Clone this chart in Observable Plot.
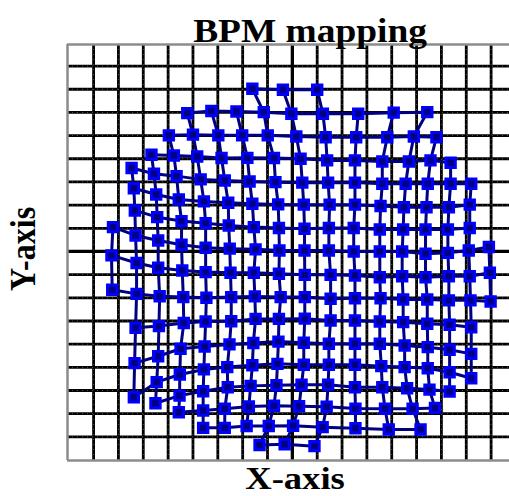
<!DOCTYPE html>
<html>
<head>
<meta charset="utf-8">
<script src="https://cdn.jsdelivr.net/npm/d3@7"></script>
<script src="https://cdn.jsdelivr.net/npm/@observablehq/plot@0.6"></script>
<style>
  html, body { margin: 0; padding: 0; background: #fff; overflow: hidden; }
  #chart svg { display: block; background: #fff; overflow: visible; }
</style>
</head>
<body>
<div id="chart"></div>
<script>
// Title / labels
const titleText = "BPM mapping";
const xLabel = "X-axis";
const yLabel = "Y-axis";

// Grid lines (grid units)
const gridTicks = d3.range(-8, 9);

// First column index of each measured row (rows listed top to bottom)
const rowStart = [7, 4, 3, 2, 1, 1, 1, 0, 0, 0, 1, 1, 1, 2, 3, 4, 7];

// Measured BPM positions per row (x, y in grid units)
const rowA_x = [-1.61, -0.38, 1.00];
const rowA_y = [7.02, 6.98, 6.98];
const rowB_x = [-4.23, -3.26, -2.25, -1.15, -0.04, 1.23, 2.65, 4.08, 5.43];
const rowB_y = [5.97, 6.06, 6.04, 6.01, 5.94, 5.94, 5.94, 5.99, 6.01];
const rowC_x = [-4.97, -4.00, -2.98, -2.02, -0.99, 0.16, 1.34, 2.57, 3.82, 4.89, 5.80];
const rowC_y = [5.01, 5.04, 5.01, 5.01, 5.01, 4.96, 4.93, 4.93, 4.93, 4.96, 4.93];
const rowD_x = [-5.67, -4.77, -3.83, -2.85, -1.81, -0.74, 0.33, 1.40, 2.52, 3.62, 4.69, 5.56, 6.37];
const rowD_y = [4.17, 4.14, 4.10, 4.03, 4.04, 4.03, 4.00, 3.93, 3.93, 3.88, 3.88, 3.93, 3.83];
const rowE_x = [-6.47, -5.57, -4.66, -3.69, -2.72, -1.72, -0.68, 0.40, 1.44, 2.52, 3.62, 4.56, 5.45, 6.37, 7.20];
const rowE_y = [3.60, 3.35, 3.25, 3.11, 3.06, 3.02, 2.99, 2.97, 2.97, 2.97, 2.92, 2.92, 2.92, 2.92, 2.92];
const rowF_x = [-6.38, -5.48, -4.57, -3.56, -2.58, -1.61, -0.57, 0.46, 1.50, 2.52, 3.55, 4.49, 5.40, 6.30, 7.14];
const rowF_y = [2.73, 2.46, 2.24, 2.16, 2.10, 2.06, 2.03, 2.02, 2.02, 2.02, 1.96, 1.91, 1.91, 1.91, 2.02];
const rowG_x = [-6.34, -5.44, -4.46, -3.49, -2.56, -1.55, -0.54, 0.49, 1.47, 2.47, 3.52, 4.46, 5.36, 6.26, 7.14];
const rowG_y = [1.77, 1.48, 1.31, 1.22, 1.12, 1.05, 1.01, 0.98, 1.01, 1.01, 0.95, 0.95, 0.95, 0.95, 1.01];
const rowH_x = [-7.22, -6.31, -5.40, -4.46, -3.49, -2.52, -1.48, -0.52, 0.49, 1.47, 2.47, 3.52, 4.42, 5.36, 6.26, 7.10, 7.91];
const rowH_y = [1.05, 0.69, 0.47, 0.29, 0.16, 0.12, 0.09, 0.04, 0.04, 0.04, 0.00, 0.00, 0.00, -0.10, -0.06, 0.04, 0.19];
const rowI_x = [-7.28, -6.27, -5.40, -4.43, -3.49, -2.49, -1.55, -0.54, 0.50, 1.54, 2.52, 3.52, 4.42, 5.36, 6.30, 7.14, 7.95];
const rowI_y = [-0.17, -0.50, -0.70, -0.82, -0.89, -0.92, -0.92, -0.96, -1.01, -1.01, -1.04, -1.11, -1.07, -1.11, -1.07, -1.07, -0.92];
const rowJ_x = [-7.25, -6.27, -5.34, -4.39, -3.46, -2.46, -1.51, -0.47, 0.50, 1.54, 2.52, 3.55, 4.46, 5.43, 6.30, 7.17, 7.98];
const rowJ_y = [-1.65, -1.83, -1.93, -1.97, -2.00, -1.97, -1.94, -1.97, -1.97, -2.04, -2.02, -2.02, -2.07, -2.07, -2.11, -2.11, -2.16];
const rowK_x = [-6.31, -5.37, -4.37, -3.49, -2.46, -1.48, -0.54, 0.50, 1.54, 2.52, 3.52, 4.46, 5.43, 6.33, 7.20];
const rowK_y = [-3.29, -3.22, -3.09, -3.02, -3.01, -2.91, -2.91, -2.90, -2.98, -2.98, -3.02, -3.05, -3.12, -3.16, -3.27];
const rowL_x = [-6.35, -5.40, -4.50, -3.53, -2.53, -1.57, -0.56, 0.46, 1.47, 2.52, 3.52, 4.52, 5.45, 6.33, 7.20];
const rowL_y = [-4.82, -4.52, -4.20, -4.10, -4.01, -3.95, -3.89, -3.94, -3.98, -3.98, -3.98, -4.06, -4.13, -4.24, -4.42];
const rowM_x = [-6.38, -5.46, -4.53, -3.56, -2.62, -1.61, -0.60, 0.46, 1.47, 2.52, 3.58, 4.52, 5.45, 6.33, 7.20];
const rowM_y = [-6.29, -5.64, -5.31, -5.09, -4.99, -4.91, -4.85, -4.89, -4.89, -4.89, -4.95, -4.99, -5.04, -5.21, -5.47];
const rowN_x = [-5.51, -4.54, -3.59, -2.60, -1.68, -0.64, 0.37, 1.44, 2.52, 3.62, 4.62, 5.52, 6.33];
const rowN_y = [-6.55, -6.22, -6.03, -5.86, -5.80, -5.77, -5.75, -5.75, -5.86, -5.86, -5.90, -5.96, -6.04];
const rowO_x = [-4.57, -3.59, -2.72, -1.75, -0.74, 0.27, 1.38, 2.54, 3.73, 4.84, 5.74];
const rowO_y = [-6.94, -6.86, -6.79, -6.69, -6.66, -6.68, -6.70, -6.78, -6.79, -6.79, -6.75];
const rowP_x = [-3.59, -2.72, -1.84, -0.95, 0.03, 1.22, 2.54, 3.88, 5.16];
const rowP_y = [-7.61, -7.61, -7.53, -7.53, -7.52, -7.58, -7.63, -7.68, -7.68];
const rowQ_x = [-1.32, -0.31, 0.89];
const rowQ_y = [-8.35, -8.32, -8.40];

const rows = [
  [rowA_x, rowA_y], [rowB_x, rowB_y], [rowC_x, rowC_y], [rowD_x, rowD_y],
  [rowE_x, rowE_y], [rowF_x, rowF_y], [rowG_x, rowG_y], [rowH_x, rowH_y],
  [rowI_x, rowI_y], [rowJ_x, rowJ_y], [rowK_x, rowK_y], [rowL_x, rowL_y],
  [rowM_x, rowM_y], [rowN_x, rowN_y], [rowO_x, rowO_y], [rowP_x, rowP_y],
  [rowQ_x, rowQ_y]
];

const pts = rows.flatMap(([xs, ys], r) =>
  xs.map((x, i) => ({x, y: ys[i], row: r, col: rowStart[r] + i}))
);
const byCol = pts.slice().sort((a, b) => a.col - b.col || a.row - b.row);

const xDom = [-9.05, 8.74];
const yDom = [-9.02, 8.93];

const W = 509, H = 496;
const mL = 67, mR = 0, mT = 44, mB = 36;

const plot = Plot.plot({
  width: W,
  height: H,
  marginLeft: mL,
  marginRight: mR,
  marginTop: mT,
  marginBottom: mB,
  x: {domain: xDom, axis: null},
  y: {domain: yDom, axis: null},
  style: {background: "#fff", overflow: "visible"},
  marks: [
    // grid
    Plot.ruleX(gridTicks, {stroke: "#000", strokeWidth: 2.8}),
    Plot.ruleY(gridTicks, {stroke: "#000", strokeWidth: 2.8}),
    Plot.ruleX(gridTicks, {stroke: "#fff", strokeWidth: 0.8, strokeOpacity: 0.4, strokeDasharray: "1,4"}),
    Plot.ruleY(gridTicks, {stroke: "#fff", strokeWidth: 0.8, strokeOpacity: 0.4, strokeDasharray: "1,4"}),
    // axes through origin
    Plot.ruleX([0], {stroke: "#000", strokeWidth: 3.2}),
    Plot.ruleY([0], {stroke: "#000", strokeWidth: 3.2}),
    // frame (top, left, bottom)
    Plot.ruleY([yDom[1], yDom[0]], {stroke: "#8c8c8c", strokeWidth: 2.5}),
    Plot.ruleX([xDom[0]], {stroke: "#8c8c8c", strokeWidth: 2.5}),
    // connecting lines
    Plot.line(pts, {x: "x", y: "y", z: "row", stroke: "#000080", strokeWidth: 3, curve: "linear"}),
    Plot.line(byCol, {x: "x", y: "y", z: "col", stroke: "#000080", strokeWidth: 3, curve: "linear"}),
    // BPM markers
    Plot.dot(pts, {x: "x", y: "y", symbol: "square", r: 5.3, fill: "#000080", stroke: "#0000ff", strokeWidth: 3})
  ]
});

const svg = d3.select(plot);
const font = "'Liberation Serif', 'Times New Roman', Times, serif";
svg.append("text")
  .attr("transform", "translate(310,42) scale(1.1,1)")
  .attr("text-anchor", "middle")
  .attr("font-family", font).attr("font-weight", "bold").attr("font-size", 34)
  .attr("fill", "#000")
  .text(titleText);
svg.append("text")
  .attr("transform", "translate(295,489) scale(1.18,1)")
  .attr("text-anchor", "middle")
  .attr("font-family", font).attr("font-weight", "bold").attr("font-size", 31)
  .attr("fill", "#000")
  .text(xLabel);
svg.append("text")
  .attr("transform", "translate(35,249) scale(1.12,1) rotate(-90)")
  .attr("text-anchor", "middle")
  .attr("font-family", font).attr("font-weight", "bold").attr("font-size", 32)
  .attr("fill", "#000")
  .text(yLabel);

document.getElementById("chart").appendChild(plot);
</script>
</body>
</html>
